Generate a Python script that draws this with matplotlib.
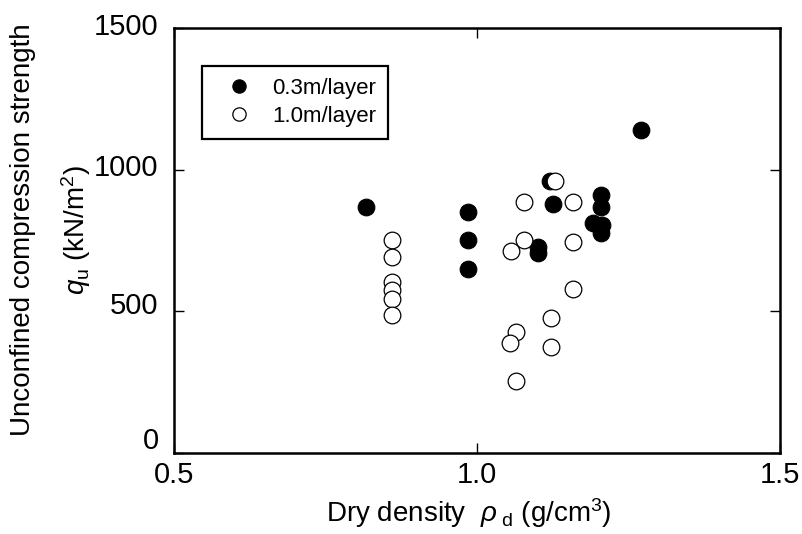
import matplotlib
matplotlib.use("Agg")
import matplotlib.pyplot as plt
import matplotlib.transforms as mtransforms

plt.rcParams["font.family"] = ["Liberation Sans", "DejaVu Sans"]
plt.rcParams["mathtext.fontset"] = "custom"
plt.rcParams["mathtext.rm"] = "Liberation Sans"
plt.rcParams["mathtext.it"] = "Liberation Sans:italic"

# 0.3 m per layer
rho_03 = [0.817, 0.985, 0.985, 0.985, 1.100, 1.100, 1.121, 1.125,
          1.204, 1.204, 1.192, 1.206, 1.204, 1.270]
qu_03 = [869, 850, 752, 648, 726, 705, 960, 879,
         910, 868, 811, 805, 775, 1140]

# 1.0 m per layer
rho_10 = [0.860, 0.860, 0.860, 0.860, 0.860, 0.860, 1.078, 1.056, 1.078,
          1.129, 1.159, 1.159, 1.159, 1.122, 1.122, 1.064, 1.055, 1.064]
qu_10 = [752, 693, 605, 575, 542, 487, 887, 714, 752,
         960, 885, 744, 579, 475, 375, 428, 387, 255]

labels = ["0.3m/layer", "1.0m/layer"]

W, H = 803, 534
fig = plt.figure(figsize=(W / 100, H / 100), dpi=100)
ax = fig.add_axes([174 / W, 1 - 453 / H, (780 - 174) / W, (453 - 28) / H])

ax.plot(rho_03, qu_03, "o", ms=12, mfc="black", mec="black", mew=0.8,
        label=labels[0], zorder=3)
ax.plot(rho_10, qu_10, "o", ms=12, mfc="white", mec="black", mew=0.9,
        label=labels[1], zorder=4)

ax.set_xlim(0.5, 1.5)
ax.set_ylim(0, 1500)
ax.set_xticks([0.5, 1.0, 1.5])
ax.set_xticklabels(["0.5", "1.0", "1.5"])
ax.set_yticks([0, 500, 1000, 1500])

for s in ax.spines.values():
    s.set_linewidth(1.8)
ax.tick_params(direction="in", length=7, width=1.0, labelsize=21,
               top=True, right=True)
ax.tick_params(axis="x", pad=6)
ax.tick_params(axis="y", pad=11)

# lift the y tick labels a little; the bottom one more, clear of "0.5"
lifts = [15, 8, 5, 4]
for lbl, dy in zip(ax.get_yticklabels(), lifts):
    shift = mtransforms.ScaledTranslation(0, dy / 100, fig.dpi_scale_trans)
    lbl.set_transform(lbl.get_transform() + shift)

leg = ax.legend(loc="upper left", bbox_to_anchor=(0.046, 0.911),
                borderaxespad=0, fontsize=16, frameon=True, fancybox=False,
                edgecolor="black", framealpha=1, markerscale=0.8,
                handlelength=2.2, handletextpad=0.4, labelspacing=0.3,
                borderpad=0.55)
leg.get_frame().set_linewidth(1.6)

fig.text(469 / W, 1 - 522 / H, r"Dry density  $\rho_{\ \rm d}$ (g/cm$^3$)",
         fontsize=20, ha="center", va="baseline")
fig.text(23 / W, 1 - 230 / H, "Unconfined compression strength",
         fontsize=20, rotation=90, ha="center", va="center")
fig.text(76 / W, 1 - 230 / H, r"$q_{\rm u}$ (kN/m$^2$)",
         fontsize=20, rotation=90, ha="center", va="center")

fig.savefig("out.png", dpi=100)
